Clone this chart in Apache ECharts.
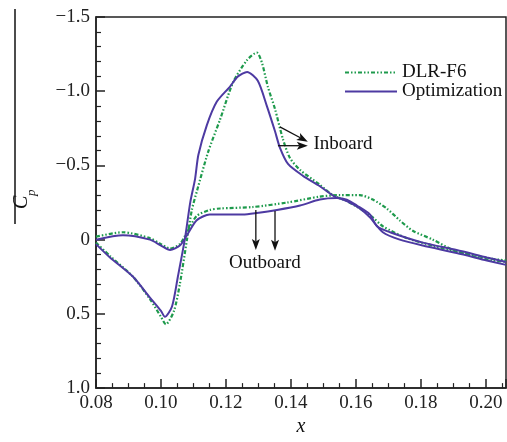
<!DOCTYPE html>
<html><head><meta charset="utf-8">
<script src="https://cdn.jsdelivr.net/npm/echarts@6/dist/echarts.min.js"></script>
<style>html,body{margin:0;padding:0;background:#fff}#c{width:507px;height:442px}</style>
</head><body><div id="c"></div>
<script>
// ---- data ----
var optInX = [0.080,0.0843,0.0914,0.0966,0.1000,0.1012,0.1034,0.1052,0.1074,0.1090,0.1105,0.1115,0.1141,0.1172,0.1212,0.1237,0.1265,0.1298,0.1326,0.1351,0.1366,0.1391,0.1437,0.1489,0.1535,0.1572,0.1612,0.1643,0.1683,0.1735,0.1806,0.1910,0.2003,0.2062];
var optInY = [0.03,0.12,0.25,0.39,0.48,0.52,0.45,0.25,-0.01,-0.25,-0.41,-0.57,-0.77,-0.93,-1.03,-1.10,-1.13,-1.07,-0.90,-0.73,-0.62,-0.51,-0.43,-0.36,-0.29,-0.26,-0.21,-0.15,-0.05,0.00,0.04,0.09,0.14,0.17];
var optOutX = [0.080,0.0883,0.0966,0.1000,0.1028,0.1058,0.1080,0.1110,0.1150,0.1182,0.1252,0.1295,0.1357,0.1428,0.1489,0.1541,0.1572,0.1603,0.1643,0.1665,0.1705,0.1806,0.1910,0.2003,0.2062];
var optOutY = [0.00,-0.03,0.00,0.04,0.07,0.04,-0.03,-0.13,-0.17,-0.17,-0.17,-0.18,-0.20,-0.23,-0.27,-0.28,-0.27,-0.23,-0.17,-0.09,-0.05,0.02,0.07,0.12,0.15];
var dlrInX = [0.080,0.0843,0.0914,0.0966,0.1000,0.1015,0.1040,0.1058,0.1080,0.1095,0.1111,0.1145,0.1182,0.1222,0.1265,0.1295,0.1311,0.1329,0.1351,0.1375,0.1397,0.1428,0.1489,0.1529,0.1572,0.1612,0.1652,0.1683,0.1757,0.1837,0.1929,0.2022,0.2062];
var dlrInY = [0.02,0.11,0.25,0.40,0.52,0.57,0.48,0.30,0.00,-0.20,-0.33,-0.59,-0.81,-1.06,-1.21,-1.26,-1.19,-1.03,-0.88,-0.68,-0.55,-0.47,-0.37,-0.30,-0.26,-0.21,-0.15,-0.09,-0.01,0.04,0.09,0.13,0.14];
var dlrOutX = [0.080,0.0883,0.0966,0.1000,0.1028,0.1058,0.1080,0.1110,0.1150,0.1182,0.1283,0.1388,0.1489,0.1550,0.1612,0.1652,0.1695,0.1735,0.1775,0.1837,0.1899,0.1960,0.2022,0.2062];
var dlrOutY = [-0.02,-0.05,-0.01,0.03,0.06,0.03,-0.05,-0.16,-0.20,-0.21,-0.22,-0.25,-0.29,-0.30,-0.30,-0.27,-0.21,-0.13,-0.06,0.00,0.07,0.11,0.14,0.15];
var seriesNames = ['DLR-F6','Optimization'];
var xTickLabels = ['0.08','0.10','0.12','0.14','0.16','0.18','0.20'];
var yTickLabels = ['\u22121.5','\u22121.0','\u22120.5','0','0.5','1.0'];
var inboardArrows = [[[0.1366,-0.76],[0.1452,-0.66]],[[0.1360,-0.633],[0.1452,-0.633]]];
var outboardArrows = [[[0.1292,-0.20],[0.1292,0.07]],[[0.1351,-0.193],[0.1351,0.075]]];
var inboardLabel = [0.1468,-0.647];
var outboardLabel = [0.1320,0.16];

function zip(a,b){return a.map(function(v,i){return [v,b[i]];});}
var FONT = '"Liberation Serif","Times New Roman",serif';
var GREEN = '#1e9a4c', PURPLE = '#4d3aa2';
var greenStyle = {color:GREEN,width:2.2,type:[4,2,1.5,2,1.5,2]};
var purpleStyle = {color:PURPLE,width:2};
var SM = 0.25;

var chart = echarts.init(document.getElementById('c'));
chart.setOption({
  animation:false,
  backgroundColor:'#fff',
  grid:{left:96,right:1,top:17,bottom:50,show:true,borderColor:'#222',borderWidth:1.5,backgroundColor:'transparent'},
  legend:{orient:'vertical',left:339,top:58,itemWidth:52,itemHeight:10,itemGap:0,
    itemStyle:{opacity:0},
    data:seriesNames,textStyle:{fontFamily:FONT,fontSize:19,color:'#111',lineHeight:17}},
  xAxis:{type:'value',min:0.08,max:0.2062,interval:0.02,
    name:'x',nameLocation:'middle',nameGap:25,
    nameTextStyle:{fontFamily:FONT,fontSize:20,fontStyle:'italic',color:'#111'},
    axisLine:{onZero:false,lineStyle:{color:'#222',width:1.5}},
    axisTick:{inside:true,length:9,lineStyle:{color:'#222',width:1.5}},
    minorTick:{show:true,splitNumber:4,length:5,lineStyle:{color:'#222',width:1.2}},
    splitLine:{show:false},
    axisLabel:{showMaxLabel:false,margin:5,fontFamily:FONT,fontSize:19,color:'#222',
      formatter:function(v){var i=Math.round((v-0.08)/0.02);return Math.abs(v-0.08-i*0.02)<1e-6?(xTickLabels[i]||''):'';}}},
  yAxis:{type:'value',inverse:true,min:-1.5,max:1.0,interval:0.5,
    axisLine:{onZero:false,lineStyle:{color:'#222',width:1.5}},
    axisTick:{inside:true,length:9,lineStyle:{color:'#222',width:1.5}},
    minorTick:{show:true,splitNumber:5,length:5,lineStyle:{color:'#222',width:1.2}},
    splitLine:{show:false},
    axisLabel:{margin:6,fontFamily:FONT,fontSize:19,color:'#222',
      formatter:function(v){var i=Math.round((v+1.5)/0.5);return yTickLabels[i]||'';}}},
  series:[
    {name:'DLR-F6',type:'line',symbol:'none',smooth:SM,data:zip(dlrInX,dlrInY),lineStyle:greenStyle,itemStyle:{color:GREEN},z:2},
    {name:'DLR-F6',type:'line',symbol:'none',smooth:SM,data:zip(dlrOutX,dlrOutY),lineStyle:greenStyle,itemStyle:{color:GREEN},z:2},
    {name:'Optimization',type:'line',symbol:'none',smooth:SM,data:zip(optInX,optInY),lineStyle:purpleStyle,itemStyle:{color:PURPLE},z:3},
    {name:'Optimization',type:'line',symbol:'none',smooth:SM,data:zip(optOutX,optOutY),lineStyle:purpleStyle,itemStyle:{color:PURPLE},z:3},
    {name:'annot',type:'line',data:[],silent:true,z:4,
      markPoint:{silent:true,animation:false,symbol:'circle',symbolSize:1,itemStyle:{color:'rgba(0,0,0,0)'},
        data:[
          {coord:inboardLabel,label:{show:true,position:'right',distance:0,formatter:'Inboard',fontFamily:FONT,fontSize:19,color:'#111'}},
          {coord:outboardLabel,label:{show:true,position:'inside',formatter:'Outboard',fontFamily:FONT,fontSize:19,color:'#111'}}
        ]}}
  ]
});

// arrows drawn through the chart's own coordinate conversion
function arrowGraphics(list){
  var out=[];
  list.forEach(function(a){
    var p1=chart.convertToPixel({gridIndex:0},a[0]);
    var p2=chart.convertToPixel({gridIndex:0},a[1]);
    var dx=p2[0]-p1[0], dy=p2[1]-p1[1], L=Math.sqrt(dx*dx+dy*dy);
    var ux=dx/L, uy=dy/L, nx=-uy, ny=ux;
    var hl=11, hw=4, notch=2.5;
    var bx=p2[0]-ux*hl, by=p2[1]-uy*hl;
    out.push({type:'line',z:100,shape:{x1:p1[0],y1:p1[1],x2:bx+ux*notch,y2:by+uy*notch},style:{stroke:'#111',lineWidth:1.3}});
    out.push({type:'polygon',z:100,shape:{points:[[p2[0],p2[1]],[bx+nx*hw,by+ny*hw],[bx+ux*notch,by+uy*notch],[bx-nx*hw,by-ny*hw]]},style:{fill:'#111'}});
  });
  return out;
}
var g=[
  {type:'line',shape:{x1:15,y1:9,x2:15,y2:224},style:{stroke:'#111',lineWidth:1.5}},
  {type:'group',x:28,y:209,rotation:Math.PI/2,children:[
    {type:'text',x:0,y:-6.5,style:{text:'C',fontFamily:FONT,fontSize:20,fontStyle:'italic',fill:'#111',align:'left',verticalAlign:'middle'}},
    {type:'text',x:13,y:4,style:{text:'p',fontFamily:FONT,fontSize:13,fontStyle:'italic',fill:'#111',align:'left',verticalAlign:'middle'}}
  ]}
].concat(arrowGraphics(inboardArrows)).concat(arrowGraphics(outboardArrows));
chart.setOption({graphic:g});
</script></body></html>
